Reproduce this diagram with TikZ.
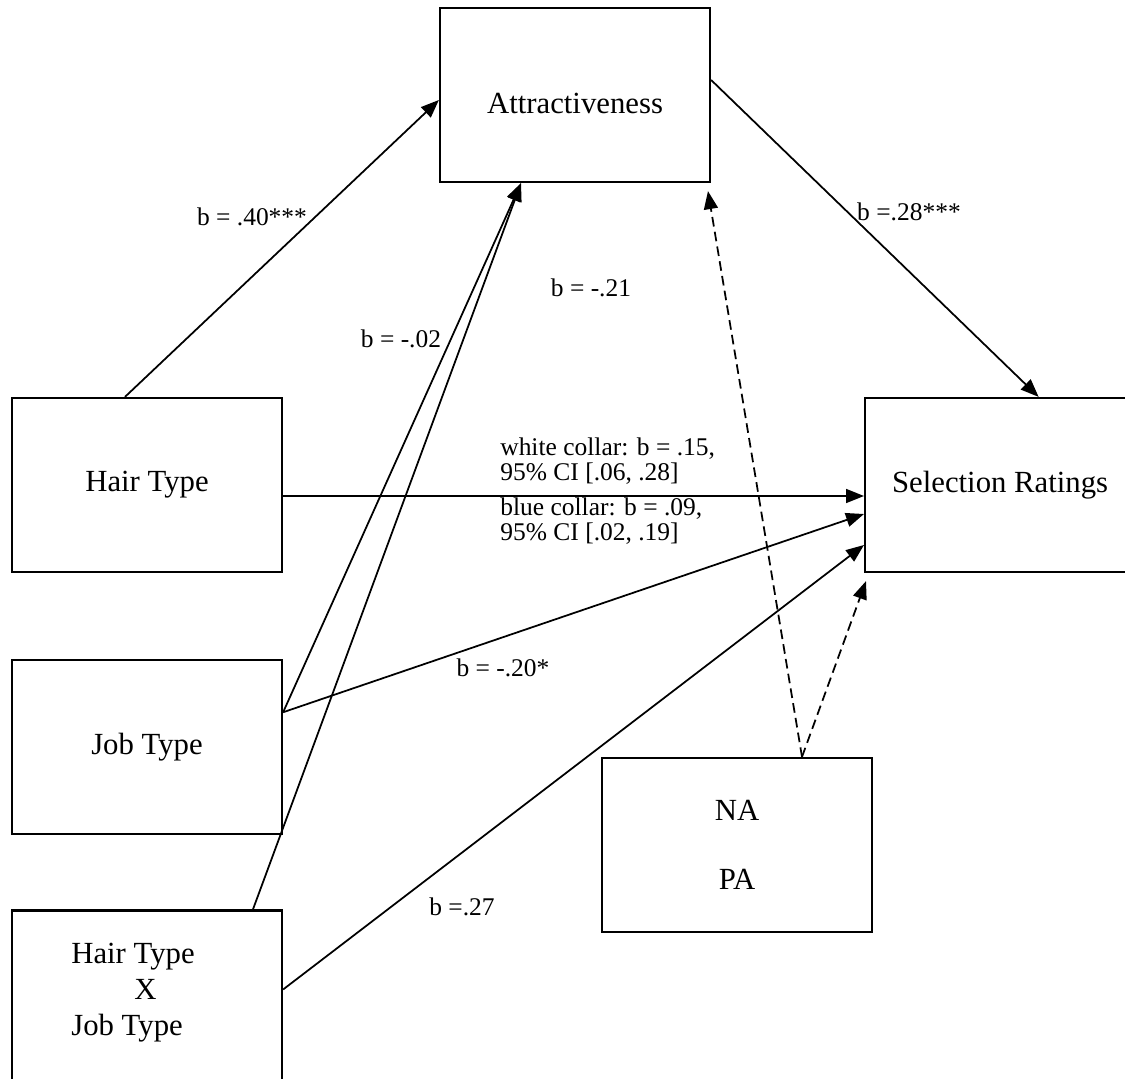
\documentclass[tikz,border=0pt]{standalone}
\usepackage{fontspec}
\setmainfont{Liberation Serif}
\usetikzlibrary{positioning,arrows.meta}

\begin{document}
\begin{tikzpicture}[x=0.02cm,y=-0.02cm,
        box/.style={draw,line width=1.3pt,minimum width=5.4cm,minimum height=3.48cm,font=\fontsize{17.5}{20.5}\selectfont},
        link/.style={line width=1pt,-{Triangle[length=0.36cm,width=0.28cm]}},
        dlink/.style={link,dash pattern=on 5.5pt off 3pt},
        lab/.style={font=\fontsize{14.5}{14.5}\selectfont,inner sep=0pt}]
    \useasboundingbox (0,0) rectangle (1125,1078);
    \clip (0,0) rectangle (1125,1078);
    \node[box] (ht) at (147,485) {Hair Type};
    \node[box,below=1.72cm of ht] (jt) {Job Type};
    \node[box,below=1.48cm of jt,align=left] (hj) {Hair Type\hspace*{0.56cm}\\\hspace*{1.26cm}X\\Job Type\\[-0.38cm]\mbox{}};
    \node[box,text height=0.76cm] (at) at (575,95) {Attractiveness};
    \node[box,right=11.62cm of ht,minimum width=5.7cm] (sr) {Selection Ratings\hspace*{0.3cm}};
    \node[box,align=center] (np) at (737,845) {NA\\[19pt]PA};
    \draw[link] ([xshift=-0.44cm]ht.north) -- ([yshift=-0.1cm]at.west);
    \draw[link] ([yshift=0.3cm]at.east) -- ([xshift=0.62cm]sr.north);
    \draw[link] ([yshift=-0.22cm]ht.east) -- ([yshift=-0.22cm]sr.west);
    \draw[link] ([yshift=0.7cm]jt.east) -- ([xshift=-1.08cm]at.south);
    \draw[link] ([yshift=0.7cm]jt.east) -- ([yshift=-0.58cm]sr.west);
    \draw[link] ([xshift=2.12cm]hj.north) -- ([xshift=-1.08cm]at.south);
    \draw[link] ([yshift=0.16cm]hj.east) -- ([yshift=-1.2cm]sr.west);
    \draw[dlink] ([xshift=1.3cm]np.north) -- ([xshift=2.66cm,yshift=-0.16cm]at.south);
    \draw[dlink] ([xshift=1.3cm]np.north) -- ([xshift=0.04cm,yshift=-0.16cm]sr.south west);
    \node[lab] (l1) at (252,217) {b = .40***};
    \node[lab] (l2) at (401,339) {b = -.02};
    \node[lab] (l3) at (591,288) {b = -.21};
    \node[lab] (l4) at (909,212) {b =.28***};
    \node[lab] (l5) at (503,668) {b = -.20*};
    \node[lab] (l6) at (462,907) {b =.27};
    \node[lab,align=left,anchor=south west] (l7) at (500,485) {white collar: b = .15,\\95\% CI [.06, .28]};
    \node[lab,align=left,anchor=north west] (l8) at (500,497) {blue collar: b = .09,\\95\% CI [.02, .19]};
\end{tikzpicture}
\end{document}
